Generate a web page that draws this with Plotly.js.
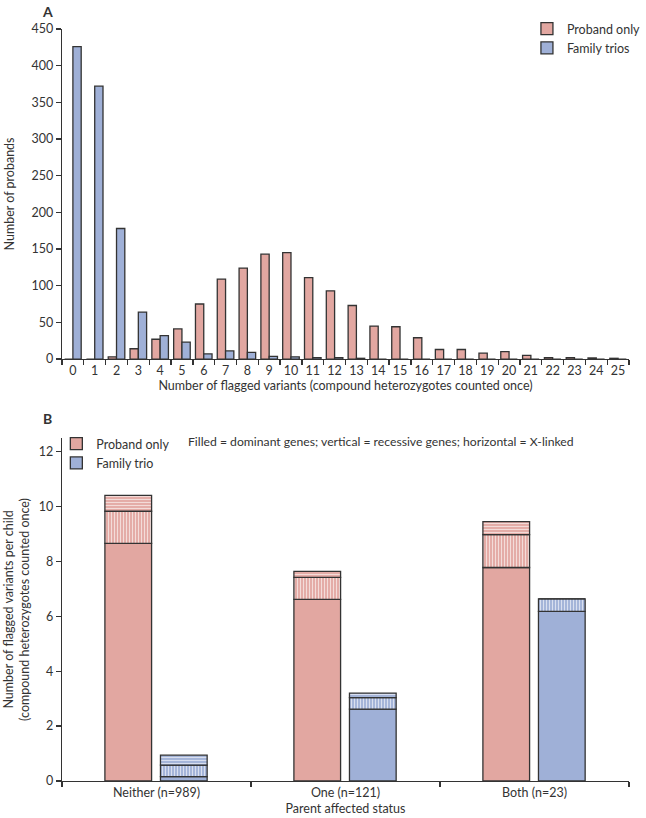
<!DOCTYPE html>
<html>
<head>
<meta charset="utf-8">
<script src="https://cdn.plot.ly/plotly-3.0.1.min.js"></script>
<style>html,body{margin:0;padding:0;background:#fff;}#chart{width:646px;height:818px;}</style>
</head>
<body>
<div id="chart"></div>
<script>
// Panel A data
const variantCounts = ["0","1","2","3","4","5","6","7","8","9","10","11","12","13","14","15","16","17","18","19","20","21","22","23","24","25"];
const probandOnlyA = [0,0,3,14,27,41,75,109,124,143,145,111,93,73,45,44,29,13,13,8,10,5,2,2,1.5,1];
const familyTriosA = [426,372,178,64,32,23,7,11,9,3.5,3,2,1.8,1,0,0,0,0,0,0,0,0,0,0,0,0];

// Panel B data
const parentStatus = ["Neither (n=989)","One (n=121)","Both (n=23)"];
const probandDominant = [8.66,6.62,7.78];
const probandRecessive = [1.17,0.80,1.20];
const probandXlinked = [0.58,0.22,0.47];
const trioDominant = [0.16,2.62,6.18];
const trioRecessive = [0.42,0.42,0.46];
const trioXlinked = [0.36,0.16,0];

const PINK = '#e2a7a1';
const BLUE = '#9fb0d7';
const EDGE = '#333333';
const FONT = 'Lato, "Open Sans", sans-serif';

const addArr = (a,b) => a.map((v,i)=>v+b[i]);

const line = {color: EDGE, width: 1.3};

const traces = [
  {type:'bar', x: variantCounts, y: probandOnlyA, name:'Proband only', xaxis:'x', yaxis:'y',
   marker:{color:PINK, line:line}, legend:'legend'},
  {type:'bar', x: variantCounts, y: familyTriosA, name:'Family trios', xaxis:'x', yaxis:'y',
   marker:{color:BLUE, line:line}, legend:'legend'}
];

const bw = 0.247, offP = -0.273, offF = 0.021;
function seg(y, base, color, shape, name, show, off){
  const m = {color: color, line: line};
  if (shape) m.pattern = {shape: shape, bgcolor: color, fgcolor:'#ffffff', fgopacity:0.6, size:3, solidity:0.4, fillmode:'replace'};
  return {type:'bar', x: parentStatus, y: y, base: base, name: name, showlegend: show,
          xaxis:'x2', yaxis:'y2', width: bw, offset: off, marker: m, legend:'legend2'};
}
const zeros = [0,0,0];
traces.push(seg(probandDominant, zeros, PINK, '', 'Proband only', true, offP));
traces.push(seg(probandRecessive, probandDominant, PINK, '|', 'Proband only recessive', false, offP));
traces.push(seg(probandXlinked, addArr(probandDominant, probandRecessive), PINK, '-', 'Proband only X-linked', false, offP));
traces.push(seg(trioDominant, zeros, BLUE, '', 'Family trio', true, offF));
traces.push(seg(trioRecessive, trioDominant, BLUE, '|', 'Family trio recessive', false, offF));
traces.push(seg(trioXlinked, addArr(trioDominant, trioRecessive), BLUE, '-', 'Family trio X-linked', false, offF));

const axisCommon = {showline:true, linecolor:EDGE, linewidth:1.3, ticks:'outside', ticklen:5,
  tickcolor:EDGE, tickwidth:1.3, showgrid:false, zeroline:false, tickfont:{size:12.5, color:'#333'}, automargin:false};

const layout = {
  width:646, height:818,
  margin:{l:62, r:0, t:10, b:37},
  font:{family:FONT, size:12.5, color:'#333'},
  paper_bgcolor:'#fff', plot_bgcolor:'#fff',
  barmode:'group', bargap:0.24, bargroupgap:0,
  xaxis: Object.assign({}, axisCommon, {domain:[0,1], anchor:'y', type:'category', tickson:'boundaries', tickangle:0,
     title:{text:'Number of flagged variants (compound heterozygotes counted once)', standoff:2, font:{size:12.5}}}),
  yaxis: Object.assign({}, axisCommon, {domain:[0.5473,0.9754], anchor:'x', range:[0,450], dtick:50,
     title:{text:'Number of probands', standoff:14, font:{size:12.5}}}),
  xaxis2: Object.assign({}, axisCommon, {domain:[0,1], anchor:'y2', type:'category', tickson:'boundaries', tickangle:0,
     title:{text:'Parent affected status', standoff:5, font:{size:12.5}}}),
  yaxis2: Object.assign({}, axisCommon, {domain:[0,0.4449], anchor:'x2', range:[0,12.5], dtick:2,
     title:{text:'Number of flagged variants per child<br>(compound heterozygotes counted once)', standoff:6, font:{size:12.5}}}),
  legend:{x:0.82, y:0.9948, xanchor:'left', yanchor:'top', bgcolor:'rgba(0,0,0,0)', font:{size:12.5}, tracegroupgap:0, itemwidth:30},
  legend2:{x:-0.01, y:0.4565, xanchor:'left', yanchor:'top', bgcolor:'rgba(0,0,0,0)', font:{size:12.5}, tracegroupgap:0, itemwidth:30},
  annotations:[
    {text:'<b>A</b>', xref:'paper', yref:'paper', x:-0.0257, y:1.0117, xanchor:'center', yanchor:'top', showarrow:false, font:{size:14}},
    {text:'<b>B</b>', xref:'paper', yref:'paper', x:-0.0257, y:0.4708, xanchor:'center', yanchor:'middle', showarrow:false, font:{size:14}},
    {text:'Filled = dominant genes; vertical = recessive genes; horizontal = X-linked', xref:'paper', yref:'paper',
     x:0.219, y:0.4397, xanchor:'left', yanchor:'middle', showarrow:false, font:{size:12.2}}
  ]
};

Plotly.newPlot('chart', traces, layout, {displayModeBar:false, staticPlot:true});
</script>
</body>
</html>
